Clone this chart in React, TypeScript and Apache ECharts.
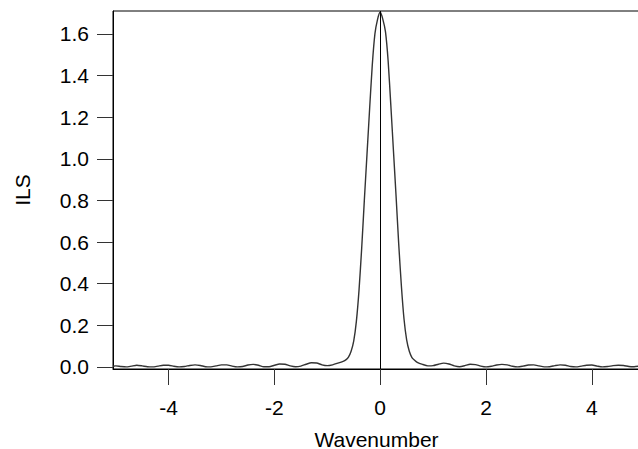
import React, { useEffect, useRef } from "react";
import * as echarts from "echarts";

const xValues: number[] = [
  -5.05, -5.0, -4.9, -4.8, -4.7, -4.6, -4.5, -4.4, -4.3, -4.2, -4.1, -4.0, -3.9, -3.8, -3.7, -3.6, -3.5, -3.4, -3.3, -3.2, -3.1,
  -3.0, -2.9, -2.8, -2.7, -2.6, -2.5, -2.4, -2.3, -2.2, -2.1, -2.0, -1.9, -1.8, -1.7, -1.6, -1.5, -1.4, -1.3, -1.2, -1.1,
  -1.0, -0.9, -0.8, -0.7, -0.65, -0.6, -0.55, -0.5, -0.45, -0.4, -0.35, -0.3, -0.25, -0.2, -0.15, -0.1, -0.05,
  0,
  0.05, 0.1, 0.15, 0.2, 0.25, 0.3, 0.35, 0.4, 0.45, 0.5, 0.55, 0.6, 0.65, 0.7, 0.8, 0.9,
  1.0, 1.1, 1.2, 1.3, 1.4, 1.5, 1.6, 1.7, 1.8, 1.9, 2.0, 2.1, 2.2, 2.3, 2.4, 2.5, 2.6, 2.7, 2.8, 2.9,
  3.0, 3.1, 3.2, 3.3, 3.4, 3.5, 3.6, 3.7, 3.8, 3.9, 4.0, 4.1, 4.2, 4.3, 4.4, 4.5, 4.6, 4.7, 4.8, 4.9,
];

const ilsValues: number[] = [
  0.003, 0.005, 0.002, 0.0, 0.004, 0.008, 0.005, 0.001, 0.0, 0.004, 0.008, 0.008, 0.003, 0.0, 0.002, 0.007, 0.01, 0.007, 0.001, 0.0, 0.005,
  0.01, 0.01, 0.004, 0.0, 0.002, 0.009, 0.012, 0.008, 0.001, 0.001, 0.008, 0.014, 0.013, 0.005, 0.001, 0.004, 0.013, 0.02, 0.019, 0.01,
  0.006, 0.01, 0.018, 0.027, 0.034, 0.047, 0.075, 0.125, 0.22, 0.37, 0.57, 0.8, 1.02, 1.24, 1.45, 1.6, 1.67,
  1.705,
  1.67, 1.61, 1.47, 1.26, 1.04, 0.82, 0.59, 0.39, 0.23, 0.13, 0.075, 0.045, 0.032, 0.022, 0.012, 0.005,
  0.006, 0.013, 0.018, 0.014, 0.005, 0.001, 0.006, 0.013, 0.011, 0.004, 0.0, 0.003, 0.009, 0.012, 0.01, 0.003, 0.0, 0.004, 0.009, 0.01,
  0.005, 0.0, 0.001, 0.006, 0.01, 0.008, 0.002, 0.0, 0.004, 0.008, 0.009, 0.004, 0.0, 0.002, 0.006, 0.008, 0.007, 0.002, 0.001, 0.004,
];

const xTicks: number[] = [-4, -2, 0, 2, 4];
const yTicks: number[] = [0, 0.2, 0.4, 0.6, 0.8, 1.0, 1.2, 1.4, 1.6];

const FONT = "'Liberation Sans', Arial, sans-serif";

export default function App() {
  const ref = useRef<HTMLDivElement>(null);

  useEffect(() => {
    if (!ref.current) return;
    document.body.style.margin = "0";
    const chart = echarts.init(ref.current, undefined, { renderer: "svg", width: 638, height: 449 });
    const data = xValues.map((x, i) => [x, ilsValues[i]]);
    chart.setOption({
      animation: false,
      backgroundColor: "#ffffff",
      grid: {
        left: 113,
        top: 11,
        right: -2,
        bottom: 80,
        containLabel: false,
        outerBoundsMode: "none",
        show: true,
        borderColor: "#000",
        borderWidth: 1,
        backgroundColor: "transparent",
      },
      xAxis: {
        type: "value",
        min: -5.05,
        max: 4.91,
        name: "Wavenumber",
        nameLocation: "middle",
        nameGap: 61,
        nameTextStyle: { fontFamily: FONT, fontSize: 21, lineHeight: 18, color: "#000" },
        axisLine: { show: true, onZero: false, lineStyle: { color: "#000", width: 1 } },
        axisTick: {
          show: true,
          length: 16,
          inside: false,
          customValues: xTicks,
          lineStyle: { color: "#333", width: 1 },
        },
        axisLabel: {
          customValues: xTicks,
          margin: 28,
          fontFamily: FONT,
          fontSize: 21,
          color: "#000",
          formatter: (v: number) => String(v),
        },
        splitLine: { show: false },
      },
      yAxis: {
        type: "value",
        min: -0.01,
        max: 1.71,
        name: "ILS",
        nameLocation: "middle",
        nameRotate: 90,
        nameGap: 80,
        nameTextStyle: { fontFamily: FONT, fontSize: 21, color: "#000" },
        axisLine: { show: true, onZero: false, lineStyle: { color: "#000", width: 1 } },
        axisTick: {
          show: true,
          length: 16,
          inside: false,
          customValues: yTicks,
          lineStyle: { color: "#333", width: 1 },
        },
        axisLabel: {
          customValues: yTicks,
          margin: 24,
          fontFamily: FONT,
          fontSize: 21,
          color: "#000",
          formatter: (v: number) => v.toFixed(1),
        },
        splitLine: { show: false },
      },
      series: [
        {
          type: "line",
          data,
          smooth: 0.2,
          showSymbol: false,
          symbol: "none",
          lineStyle: { color: "#333", width: 1.4 },
          markLine: {
            silent: true,
            symbol: ["none", "none"],
            label: { show: false },
            lineStyle: { color: "#000", width: 1, type: "solid" },
            data: [{ xAxis: 0 }],
          },
        },
      ],
    });
    return () => chart.dispose();
  }, []);

  return (
    <div
      ref={ref}
      style={{ position: "fixed", left: 0, top: 0, width: 638, height: 449 }}
    />
  );
}
